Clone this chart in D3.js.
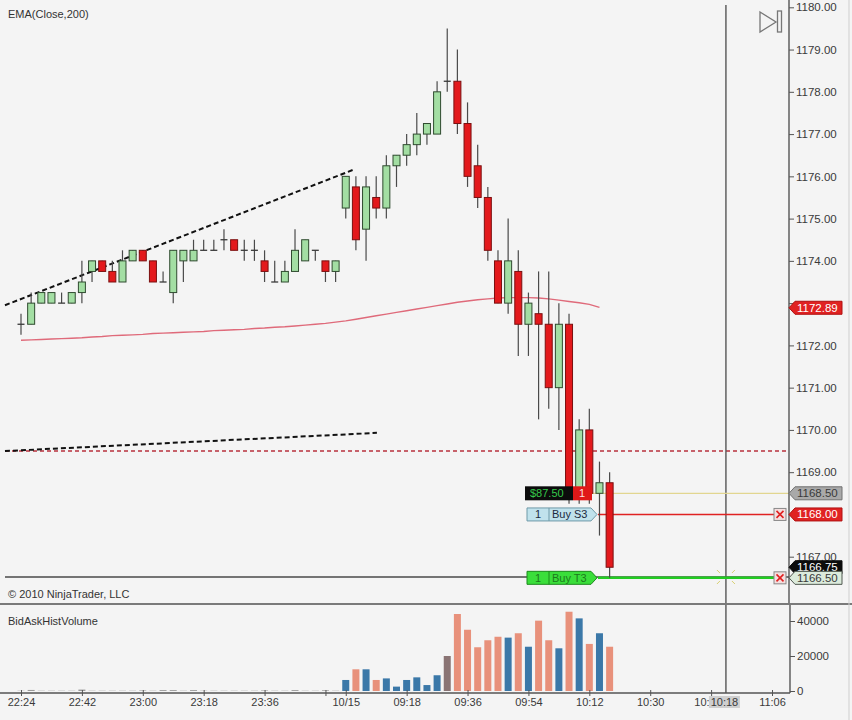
<!DOCTYPE html>
<html>
<head>
<meta charset="utf-8">
<script src="https://cdn.jsdelivr.net/npm/d3@7"></script>
<style>
  body { margin: 0; background: #f4f4f4; }
  text { font-family: "Liberation Sans", Arial, sans-serif; }
</style>
</head>
<body>
<svg id="chart" width="852" height="720"></svg>
<script>
// 3 minute ES bars, index 0 = 22:24 (10/14), index 32 = 09:00 (10/15)
const opens  = [1172.5,1172.5,1173.0,1173.0,1173.0,1173.0,1173.25,1173.75,1174.0,1173.75,
                1173.5,1174.0,1174.25,1174.0,1173.5,1173.25,1174.0,1174.0,1174.25,1174.25,
                1174.5,1174.5,1174.25,1174.25,1174.0,1173.5,1173.5,1173.75,1174.0,1174.25,
                1174.0,1173.75,1175.25,1175.75,1174.75,1175.5,1175.25,1176.25,1176.5,1176.75,
                1177.0,1177.0,1178.25,1178.25,1177.25,1176.25,1175.5,1174.0,1173.0,1173.75,
                1172.5,1172.75,1172.5,1171.0,1172.5,1168.5,1170.0,1168.5,1168.75];
const highs  = [1172.75,1173.25,1173.25,1173.25,1173.25,1173.25,1174.0,1174.0,1174.0,1174.0,
                1174.25,1174.25,1174.25,1174.0,1173.75,1174.25,1174.25,1174.5,1174.5,1174.5,
                1174.75,1174.5,1174.5,1174.5,1174.25,1174.0,1174.0,1174.75,1174.5,1174.25,
                1174.0,1174.0,1176.0,1176.0,1176.0,1176.0,1176.5,1176.5,1177.0,1177.5,
                1177.25,1178.25,1179.5,1179.0,1177.75,1176.75,1175.75,1174.25,1175.0,1174.25,
                1173.25,1173.75,1173.75,1173.0,1172.75,1170.25,1170.5,1169.25,1169.0];
const lows   = [1172.25,1172.5,1173.0,1173.0,1173.0,1173.0,1173.0,1173.5,1173.75,1173.5,
                1173.5,1174.0,1174.0,1173.5,1173.5,1173.0,1173.5,1174.0,1174.25,1174.25,
                1174.25,1174.25,1174.0,1174.0,1173.5,1173.5,1173.5,1173.75,1174.0,1174.0,
                1173.5,1173.5,1175.0,1174.25,1174.0,1175.0,1175.0,1175.75,1176.25,1176.5,
                1176.75,1177.0,1178.0,1177.0,1175.75,1175.25,1174.0,1173.0,1172.75,1171.75,
                1171.75,1170.25,1170.5,1170.0,1168.25,1168.25,1168.25,1167.5,1166.5];
const closes = [1172.5,1173.0,1173.25,1173.25,1173.0,1173.25,1173.5,1174.0,1173.75,1173.5,
                1174.0,1174.25,1174.0,1173.5,1173.5,1174.25,1174.25,1174.25,1174.25,1174.25,
                1174.5,1174.25,1174.25,1174.25,1173.75,1173.5,1173.75,1174.25,1174.5,1174.25,
                1173.75,1174.0,1176.0,1174.5,1175.75,1175.25,1176.25,1176.5,1176.75,1177.0,
                1177.25,1178.0,1178.25,1177.25,1176.0,1175.5,1174.25,1173.0,1174.0,1172.5,
                1173.0,1172.5,1171.0,1172.5,1168.5,1170.0,1168.5,1168.75,1166.75];

// EMA(Close,200)
const ema200 = [1172.12,1172.13,1172.14,1172.15,1172.16,1172.17,1172.18,1172.20,1172.21,1172.23,
                1172.24,1172.25,1172.26,1172.28,1172.29,1172.30,1172.31,1172.32,1172.33,1172.35,
                1172.36,1172.37,1172.38,1172.40,1172.41,1172.43,1172.44,1172.46,1172.48,1172.50,
                1172.52,1172.55,1172.58,1172.62,1172.66,1172.70,1172.74,1172.78,1172.82,1172.86,
                1172.90,1172.94,1172.98,1173.02,1173.05,1173.08,1173.10,1173.12,1173.13,1173.13,
                1173.13,1173.12,1173.10,1173.07,1173.04,1173.01,1172.97,1172.90];

// BidAskHistVolume
const volumes = [150,600,150,150,150,150,800,150,150,150,150,150,300,150,500,500,150,500,150,150,
                 150,150,150,150,300,150,150,500,150,150,400,150,
                 6300,12400,12400,6300,7200,2500,6300,7800,3400,9000,20000,44000,35000,25000,29000,
                 31000,30500,33000,25300,40200,29000,24400,45300,41500,26900,33000,25300];
const volSides = ["n","n","n","n","n","n","n","n","n","n","n","n","n","n","n","n","n","n","n","n",
                  "n","n","n","n","n","n","n","n","n","n","n","n",
                  "a","b","a","b","a","a","a","a","a","a","n","b","b","b","b",
                  "b","a","b","a","b","b","a","b","a","b","a","b"];

const timeTicks  = [0,6,12,18,24,30,32,38,44,50,56,62,68,74];
const timeLabels = ["22:24","22:42","23:00","23:18","23:36","","10/15","09:18","09:36","09:54","10:12","10:30","10:","11:06"];
const priceTicks = [1167,1168,1169,1170,1171,1172,1173,1174,1175,1176,1177,1178,1179,1180];
const hiddenPriceLabels = [1168,1173];   // covered by the order / EMA markers
const volTicks   = [0,20000,40000];

// drawing objects
const trendStartIdx = [-1.58,-1.58];
const trendStartPx  = [1172.95,1169.5];
const trendEndIdx   = [32.9,35.07];
const trendEndPx    = [1176.17,1169.93];
const alertLevel = 1169.5;

// position / orders
const positionPrice = 1168.50, positionQty = 1, positionPnl = "$87.50";
const stopPrice = 1168.00, stopName = "Buy S3";
const targetPrice = 1166.50, targetName = "Buy T3";
const lastPrice = 1166.75;
const emaLast = 1172.89;
const crossIdx = 69.46, crossPrice = 1166.52, crossTime = "10:18";

const svg = d3.select("#chart");
const fmt = d3.format(".2f");

const x = d3.scaleLinear().domain([0, 74]).range([21, 772]);
const y = d3.scaleLinear().domain([1167, 1180]).range([556.7, 7.3]);
const v = d3.scaleLinear().domain([0, 40000]).range([691, 621]);

const axisX = 789;

svg.append("rect").attr("width", 852).attr("height", 720).attr("fill", "#f4f4f4");

// titles
svg.append("text").attr("x", 8).attr("y", 18).attr("font-size", 11).attr("fill", "#333").text("EMA(Close,200)");
svg.append("text").attr("x", 8).attr("y", 598).attr("font-size", 11).attr("fill", "#333").text("\u00a9 2010 NinjaTrader, LLC");
svg.append("text").attr("x", 8).attr("y", 625).attr("font-size", 11).attr("fill", "#333").text("BidAskHistVolume");

// alert level (red dashed)
svg.append("line")
    .attr("x1", 5).attr("x2", axisX)
    .attr("y1", y(alertLevel)).attr("y2", y(alertLevel))
    .attr("stroke", "#b8303c").attr("stroke-width", 1.6).attr("stroke-dasharray", "4,3");

// trend lines
trendStartIdx.forEach((d, i) => {
  svg.append("line")
      .attr("x1", x(d)).attr("y1", y(trendStartPx[i]))
      .attr("x2", x(trendEndIdx[i])).attr("y2", y(trendEndPx[i]))
      .attr("stroke", "#111").attr("stroke-width", 2).attr("stroke-dasharray", "5,3");
});

// crosshair
svg.append("line")
    .attr("x1", 5).attr("x2", axisX)
    .attr("y1", y(crossPrice)).attr("y2", y(crossPrice))
    .attr("stroke", "#4a4a4a").attr("stroke-width", 1.4);
svg.append("line")
    .attr("x1", x(crossIdx)).attr("x2", x(crossIdx))
    .attr("y1", 5).attr("y2", 693)
    .attr("stroke", "#555").attr("stroke-width", 1.4);

// position line and order lines
svg.append("line")
    .attr("x1", 592).attr("x2", axisX)
    .attr("y1", y(positionPrice)).attr("y2", y(positionPrice))
    .attr("stroke", "#e2d690").attr("stroke-width", 1.2);
svg.append("line")
    .attr("x1", 598).attr("x2", 775)
    .attr("y1", y(stopPrice)).attr("y2", y(stopPrice))
    .attr("stroke", "#e02222").attr("stroke-width", 1.6);
svg.append("line")
    .attr("x1", 598).attr("x2", 775)
    .attr("y1", y(targetPrice)).attr("y2", y(targetPrice))
    .attr("stroke", "#22cc22").attr("stroke-width", 2.5);

// EMA line
svg.append("path")
    .datum(ema200)
    .attr("fill", "none")
    .attr("stroke", "#df6a7a")
    .attr("stroke-width", 1.4)
    .attr("d", d3.line().x((d, i) => x(i)).y(d => y(d)));

// candles
const bars = d3.range(opens.length);
const candle = svg.append("g").selectAll("g").data(bars).join("g");
candle.append("line")
    .attr("x1", i => x(i)).attr("x2", i => x(i))
    .attr("y1", i => y(highs[i])).attr("y2", i => y(lows[i]))
    .attr("stroke", "#4a4a4a").attr("stroke-width", 1.2);
candle.filter(i => opens[i] !== closes[i]).append("rect")
    .attr("x", i => x(i) - 3.5)
    .attr("width", 7)
    .attr("y", i => y(Math.max(opens[i], closes[i])))
    .attr("height", i => Math.abs(y(opens[i]) - y(closes[i])))
    .attr("fill", i => closes[i] > opens[i] ? "#a3dea3" : "#e3191c")
    .attr("stroke", i => closes[i] > opens[i] ? "#2f4a2f" : "#7a1010")
    .attr("stroke-width", 1);
candle.filter(i => opens[i] === closes[i]).append("line")
    .attr("x1", i => x(i) - 3.5).attr("x2", i => x(i) + 3.5)
    .attr("y1", i => y(opens[i])).attr("y2", i => y(opens[i]))
    .attr("stroke", "#3a3a3a").attr("stroke-width", 1.3);

// position label
const py = y(positionPrice);
svg.append("rect").attr("x", 525).attr("y", py - 7).attr("width", 48).attr("height", 14).attr("fill", "#0c0c0c");
svg.append("rect").attr("x", 573).attr("y", py - 7).attr("width", 19).attr("height", 14).attr("fill", "#e01818");
svg.append("text").attr("x", 530).attr("y", py + 4).attr("font-size", 11).attr("fill", "#35c84a").text(positionPnl);
svg.append("text").attr("x", 582).attr("y", py + 4).attr("font-size", 11).attr("text-anchor", "middle").attr("fill", "#fbe0e0").text(positionQty);

// order labels
function orderLabel(price, name, fill, stroke, textFill) {
  const cy = y(price);
  svg.append("path")
      .attr("d", `M527,${cy - 6.5}H591L597,${cy}L591,${cy + 6.5}H527Z`)
      .attr("fill", fill).attr("stroke", stroke).attr("stroke-width", 1);
  svg.append("line").attr("x1", 549).attr("x2", 549).attr("y1", cy - 6.5).attr("y2", cy + 6.5)
      .attr("stroke", stroke);
  svg.append("text").attr("x", 538).attr("y", cy + 4).attr("font-size", 11)
      .attr("text-anchor", "middle").attr("fill", textFill).text(positionQty);
  svg.append("text").attr("x", 552).attr("y", cy + 4).attr("font-size", 11)
      .attr("fill", textFill).text(name);
}
orderLabel(stopPrice, stopName, "#c0e2ec", "#6f9aa8", "#1d2a40");
orderLabel(targetPrice, targetName, "#3ade3a", "#1d8a1d", "#1c7a1c");

// close buttons
[stopPrice, targetPrice].forEach(p => {
  const cy = y(p);
  const g = svg.append("g");
  g.append("rect").attr("x", 774).attr("y", cy - 6).attr("width", 12).attr("height", 12)
      .attr("fill", "#f4dede").attr("stroke", "#888");
  g.append("path").attr("d", `M776.5,${cy - 3.5}L783.5,${cy + 3.5}M783.5,${cy - 3.5}L776.5,${cy + 3.5}`)
      .attr("stroke", "#e02020").attr("stroke-width", 1.6);
});

// cursor marks
const cx = x(crossIdx), cyc = y(crossPrice);
svg.append("path")
    .attr("d", `M${cx - 9},${cyc - 7}l3,3M${cx + 9},${cyc - 7}l-3,3M${cx - 9},${cyc + 7}l3,-3M${cx + 9},${cyc + 7}l-3,-3`)
    .attr("stroke", "#d8d070").attr("stroke-width", 1);

// price axis
svg.append("line").attr("x1", axisX).attr("x2", axisX).attr("y1", 0).attr("y2", 604)
    .attr("stroke", "#555").attr("stroke-width", 1.4);
const yAxis = svg.append("g")
    .attr("transform", `translate(${axisX},0)`)
    .call(d3.axisRight(y).tickValues(priceTicks)
      .tickFormat(d => hiddenPriceLabels.includes(d) ? "" : fmt(d))
      .tickSize(5).tickPadding(2));
yAxis.select(".domain").remove();
yAxis.selectAll("line").attr("stroke", "#555");
yAxis.selectAll("text").attr("font-size", 11.5).attr("fill", "#3a3a3a")
    .attr("font-family", "Liberation Sans, Arial, sans-serif");

// price markers on axis
function marker(price, fill, stroke, textFill) {
  const cy = y(price);
  svg.append("path")
      .attr("d", `M${axisX},${cy}L${axisX + 6},${cy - 6.5}H842V${cy + 6.5}H${axisX + 6}Z`)
      .attr("fill", fill).attr("stroke", stroke).attr("stroke-width", 1);
  svg.append("text").attr("x", axisX + 8).attr("y", cy + 4).attr("font-size", 11.5)
      .attr("fill", textFill).text(fmt(price));
}
marker(emaLast, "#e02222", "#b01010", "#ffffff");
marker(positionPrice, "#a9a9a9", "#707070", "#3a3a3a");
marker(stopPrice, "#e02222", "#b01010", "#ffffff");
marker(lastPrice, "#0c0c0c", "#0c0c0c", "#ffffff");
marker(targetPrice, "#dcebdc", "#505850", "#3a3a3a");

// panel separator
svg.append("line").attr("x1", 0).attr("x2", 852).attr("y1", 604).attr("y2", 604)
    .attr("stroke", "#7a7a7a").attr("stroke-width", 2);

// volume bars
const volColor = { a: "#3b78a8", b: "#e8917b", n: "#8a7474" };
svg.append("g").selectAll("rect").data(bars).join("rect")
    .attr("x", i => x(i) - 3.5)
    .attr("width", 7)
    .attr("y", i => v(volumes[i]))
    .attr("height", i => v(0) - v(volumes[i]))
    .attr("fill", i => i < 32 ? "#9a9a9a" : volColor[volSides[i]]);

// volume axis
svg.append("line").attr("x1", 790).attr("x2", 790).attr("y1", 605).attr("y2", 693)
    .attr("stroke", "#555").attr("stroke-width", 1.4);
const vAxis = svg.append("g")
    .attr("transform", "translate(790,0)")
    .call(d3.axisRight(v).tickValues(volTicks).tickFormat(d3.format("d")).tickSize(5).tickPadding(2));
vAxis.select(".domain").remove();
vAxis.selectAll("line").attr("stroke", "#555");
vAxis.selectAll("text").attr("font-size", 11.5).attr("fill", "#3a3a3a")
    .attr("font-family", "Liberation Sans, Arial, sans-serif");

// time axis
svg.append("line").attr("x1", 0).attr("x2", 790).attr("y1", 693).attr("y2", 693)
    .attr("stroke", "#555").attr("stroke-width", 1.4);
const xAxis = svg.append("g")
    .attr("transform", "translate(0,690)")
    .call(d3.axisBottom(x).tickValues(timeTicks).tickFormat((d, i) => timeLabels[i]).tickSize(6).tickPadding(2));
xAxis.select(".domain").remove();
xAxis.selectAll("line").attr("stroke", "#555");
xAxis.selectAll("text").attr("font-size", 11).attr("fill", "#3a3a3a")
    .attr("font-family", "Liberation Sans, Arial, sans-serif");
// the tick under the crosshair label only shows its hour part, left of the box
xAxis.selectAll(".tick").filter(d => d === 68).select("text")
    .attr("text-anchor", "end").attr("x", -2);

// crosshair time label
svg.append("rect").attr("x", cx - 17).attr("y", 696).attr("width", 31).attr("height", 12).attr("fill", "#cfcfcf");
svg.append("text").attr("x", cx - 1.5).attr("y", 706).attr("font-size", 11).attr("text-anchor", "middle")
    .attr("fill", "#3a3a3a").text(crossTime);

// scroll-to-end icon
svg.append("path").attr("d", "M760,12L776,22L760,32Z").attr("fill", "none").attr("stroke", "#777").attr("stroke-width", 1.3);
svg.append("rect").attr("x", 777.5).attr("y", 11).attr("width", 4).attr("height", 21)
    .attr("fill", "none").attr("stroke", "#777").attr("stroke-width", 1.3);

// right window edge
svg.append("line").attr("x1", 849).attr("x2", 849).attr("y1", 0).attr("y2", 720).attr("stroke", "#cfcfcf");
</script>
</body>
</html>
